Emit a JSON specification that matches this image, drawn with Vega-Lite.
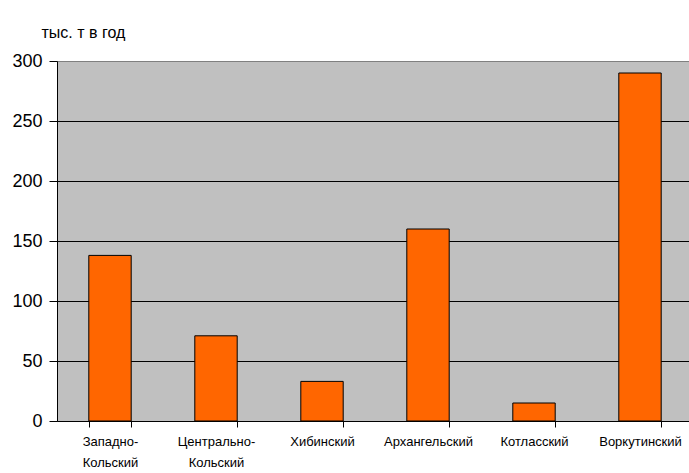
{
  "$schema": "https://vega.github.io/schema/vega-lite/v6.json",
  "autosize": "none",
  "padding": {"left": 57, "top": 61, "right": 0, "bottom": 52},
  "width": 632,
  "height": 360,
  "background": "white",
  "config": {"view": {"stroke": null, "fill": "#C0C0C0"}, "font": "Liberation Sans"},
  "data": {"values": [
    {"region": "Западно-Кольский", "value": 138},
    {"region": "Центрально-Кольский", "value": 71},
    {"region": "Хибинский", "value": 33},
    {"region": "Архангельский", "value": 160},
    {"region": "Котласский", "value": 15},
    {"region": "Воркутинский", "value": 290}
  ]},
  "mark": {"type": "bar", "color": "#FF6600", "stroke": "black", "strokeWidth": 1},
  "encoding": {
    "x": {
      "field": "region", "type": "nominal", "sort": null,
      "scale": {"range": [0, 636], "paddingInner": 0.6, "paddingOuter": 0.3},
      "axis": {
        "title": null, "labelAngle": 0, "domainColor": "black", "tickColor": "black",
        "tickSize": 6, "tickBand": "extent", "labelPadding": 8,
        "labelFontSize": 13, "labelColor": "black",
        "labelLineHeight": 21, "labelBaseline": "top",
        "labelExpr": "indexof(datum.label, '-') > 0 ? [slice(datum.label, 0, indexof(datum.label, '-') + 1), slice(datum.label, indexof(datum.label, '-') + 1)] : datum.label"
      }
    },
    "y": {
      "field": "value", "type": "quantitative",
      "scale": {"domain": [0, 300], "nice": false},
      "axis": {
        "values": [0, 50, 100, 150, 200, 250, 300],
        "domainColor": "black", "tickColor": "black", "tickSize": 8, "labelPadding": 7,
        "labelFontSize": 18, "labelColor": "black",
        "grid": true,
        "gridColor": {"condition": {"test": "datum.value === 300", "value": "#808080"}, "value": "black"},
        "gridOpacity": 1,
        "title": "тыс. т в год", "titleAngle": 0, "titleAlign": "left", "titleBaseline": "middle",
        "titleX": -16, "titleY": -29, "titleFontSize": 16, "titleFontWeight": "normal", "titleColor": "black"
      }
    }
  }
}
